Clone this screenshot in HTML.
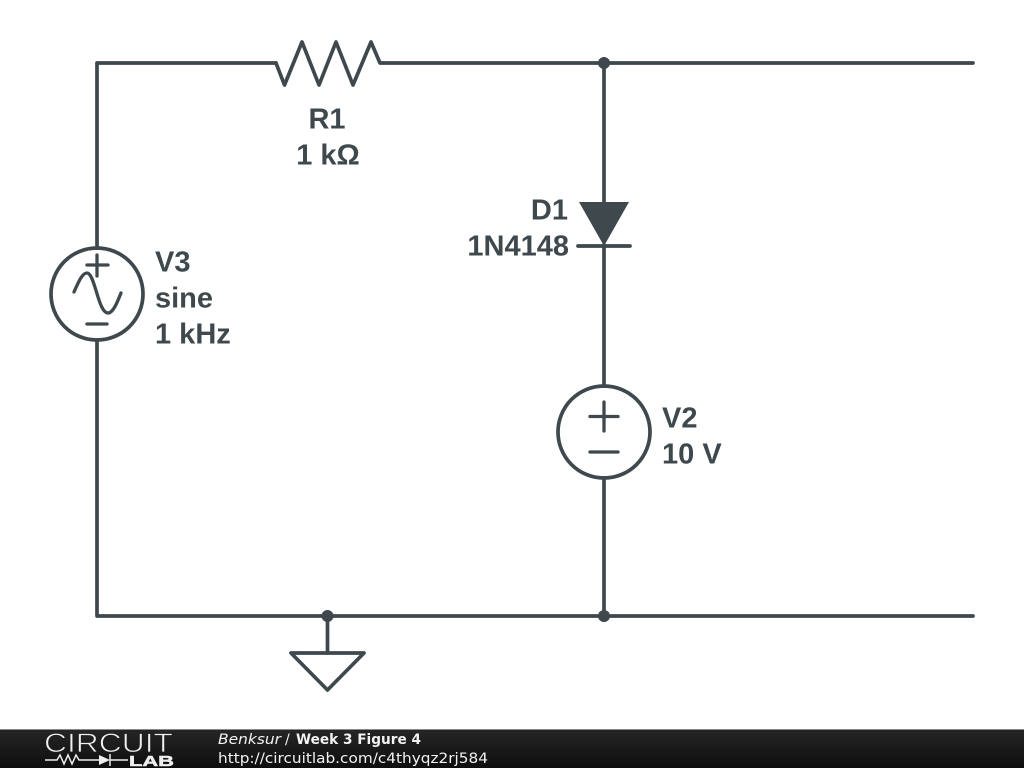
<!DOCTYPE html>
<html>
<head>
<meta charset="utf-8">
<style>
html,body{margin:0;padding:0;background:#fff;width:1024px;height:768px;overflow:hidden}
svg{display:block;position:absolute;left:0;top:0}
</style>
</head>
<body>
<svg width="1024" height="768" viewBox="0 0 1024 768" xmlns="http://www.w3.org/2000/svg">
<defs>
<linearGradient id="bar" x1="0" y1="0" x2="0" y2="1">
<stop offset="0" stop-color="#262626"/>
<stop offset="0.5" stop-color="#1a1a1a"/>
<stop offset="1" stop-color="#0e0e0e"/>
</linearGradient>
</defs>
<rect width="1024" height="768" fill="#fff"/>
<g fill="none" stroke="#3f484d" stroke-width="3.700" stroke-linecap="round" stroke-linejoin="round">
<path d="M97 248V63H276"/>
<path d="M276 63L284.500 85L302 42L319 85L336 42L353 85L371 42L380 63H973"/>
<path d="M97 340V616H973"/>
<path d="M604 63V203"/>
<path d="M604 245V386"/>
<path d="M604 478V616"/>
<path d="M327.500 616V653"/>
<circle cx="97" cy="294" r="46"/>
<circle cx="604" cy="432" r="46"/>
<path d="M291 653H364L327.500 690Z"/>
<path d="M578 246H630"/>
<g stroke-width="3.300">
<path d="M97 255V276M87 265H108"/>
<path d="M87 324H107"/>
<path d="M74 292C78 283 82 273 87 273C95 273 98 313 108 313C113 313 117 303 121 293"/>
</g>
<path d="M604 402V431M590 416.500H618" stroke-width="3.300"/>
<path d="M590 452H618" stroke-width="3.300"/>
</g>
<path d="M579 202H629L604 246Z" fill="#3f484d"/>
<circle cx="604" cy="63" r="6" fill="#3f484d"/>
<circle cx="604" cy="616" r="6" fill="#3f484d"/>
<circle cx="327.500" cy="616" r="6" fill="#3f484d"/>
<g font-family="'Liberation Sans',sans-serif" font-weight="700" font-size="29" fill="#3f484d">
<text x="327" y="128.500" text-anchor="middle">R1</text>
<text x="328" y="164.500" text-anchor="middle">1 kΩ</text>
<text x="155" y="271.500">V3</text>
<text x="155" y="307.500">sine</text>
<text x="155" y="343.500">1 kHz</text>
<text x="568" y="219.500" text-anchor="end">D1</text>
<text x="569" y="255.500" text-anchor="end">1N4148</text>
<text x="662" y="427.500">V2</text>
<text x="662" y="463.500">10 V</text>
</g>
<rect y="729" width="1024" height="39" fill="url(#bar)"/>
<rect y="729" width="1024" height="1" fill="#8a8a8a"/>
<text x="44" y="752" font-family="'Liberation Sans',sans-serif" font-size="27" fill="#f0f0f0" stroke="#1e1e1e" stroke-width="0.800" textLength="129" lengthAdjust="spacingAndGlyphs">CIRCUIT</text>
<g fill="none" stroke="#eee" stroke-width="1.500">
<path d="M45 760H57L60 755L64 764L68 755L72 764L76 755L79 760H99"/>
<path d="M110 754V766M110 760H128"/>
</g>
<path d="M99 755L110 760L99 765Z" fill="#eee"/>
<text x="129" y="766" font-family="'Liberation Sans',sans-serif" font-weight="700" font-size="15" fill="#eee" stroke="#eee" stroke-width="0.500" textLength="45" lengthAdjust="spacingAndGlyphs">LAB</text>
<g font-family="'DejaVu Sans',sans-serif" font-size="14" fill="#f2f2f2">
<text x="218" y="744" font-style="italic" textLength="63" lengthAdjust="spacingAndGlyphs">Benksur</text>
<text x="285" y="744">/</text>
<text x="296" y="744" font-weight="700" textLength="125" lengthAdjust="spacingAndGlyphs">Week 3 Figure 4</text>
<text x="218" y="763" textLength="270" lengthAdjust="spacingAndGlyphs">http://circuitlab.com/c4thyqz2rj584</text>
</g>
</svg>
</body>
</html>
